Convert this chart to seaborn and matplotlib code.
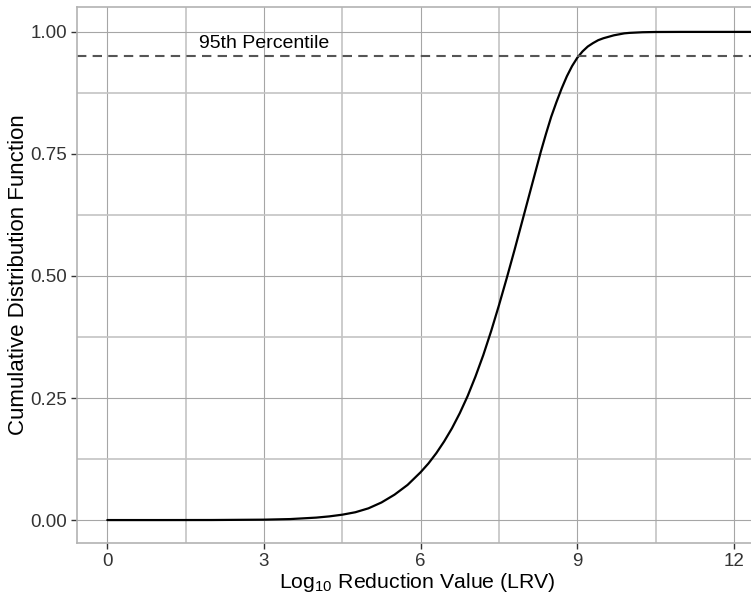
import numpy as np
import pandas as pd
import seaborn as sns
import matplotlib.pyplot as plt
from matplotlib.ticker import MultipleLocator

# CDF curve (LRV vs cumulative probability)
lrv = [0, 1, 2, 3, 3.5, 4, 4.25, 4.5, 4.75, 5, 5.25, 5.5, 5.75, 6, 6.15, 6.3,
       6.45, 6.6, 6.75, 6.9, 7.05, 7.2, 7.35, 7.5, 7.65, 7.8, 7.95, 8.1, 8.2,
       8.3, 8.4, 8.5, 8.6, 8.7, 8.8, 8.9, 9.0, 9.1, 9.2, 9.3, 9.4, 9.5, 9.6,
       9.7, 9.8, 9.9, 10, 10.25, 10.5, 11, 12.5]
cdf = [0, 0, 0.0001, 0.0008, 0.002, 0.005, 0.0075, 0.011, 0.016, 0.024, 0.036,
       0.052, 0.072, 0.098, 0.116, 0.137, 0.161, 0.188, 0.219, 0.254, 0.294,
       0.338, 0.387, 0.44, 0.496, 0.554, 0.614, 0.674, 0.714, 0.754, 0.791,
       0.826, 0.856, 0.884, 0.909, 0.930, 0.947, 0.960, 0.970, 0.977, 0.983,
       0.987, 0.990, 0.993, 0.995, 0.997, 0.998, 0.9993, 0.9998, 1.0, 1.0]
percentile_level = 0.95
percentile_label = "95th Percentile"
x_ticks = [0, 3, 6, 9, 12]
y_ticks = [0.00, 0.25, 0.50, 0.75, 1.00]

df = pd.DataFrame({"lrv": lrv, "cdf": cdf})

sns.set_theme(style="whitegrid")
plt.rcParams['font.family'] = ['Liberation Sans', 'DejaVu Sans']
plt.rcParams['mathtext.fontset'] = 'custom'
plt.rcParams['mathtext.rm'] = 'Liberation Sans'

fig = plt.figure(figsize=(7.51, 5.99), dpi=100)
ax = fig.add_axes([77 / 751, 56 / 599, 1 - 77 / 751 + 0.01, (543 - 7) / 599])

sns.lineplot(data=df, x="lrv", y="cdf", color="black", linewidth=1.6, ax=ax)
ax.axhline(percentile_level, color="#555555", linestyle=(0, (4.5, 3)), linewidth=1.5)
ax.text(3, 0.977, percentile_label, ha="center", va="center", fontsize=14, color="black")

ax.set_xlim(-0.58, 12.47)
ax.set_ylim(-0.047, 1.051)
ax.set_xticks(x_ticks)
ax.set_yticks(y_ticks)
ax.set_xticklabels([str(t) for t in x_ticks])
ax.set_yticklabels([f"{t:.2f}" for t in y_ticks])
ax.xaxis.set_minor_locator(MultipleLocator(1.5))
ax.yaxis.set_minor_locator(MultipleLocator(0.125))

ax.grid(which="major", color="#a6a6a6", linewidth=0.8)
ax.grid(which="minor", color="#c4c4c4", linewidth=1.2)
ax.set_axisbelow(True)
for side in ["left", "bottom", "top", "right"]:
    ax.spines[side].set_color("#b3b3b3")
    ax.spines[side].set_linewidth(1.2)

ax.tick_params(which="major", length=4, width=1, color="#333333",
               labelsize=13.5, labelcolor="#333333", pad=3,
               bottom=True, left=True)
ax.tick_params(which="minor", length=0)

ax.set_xlabel(r"Log$_{\mathregular{10}}$ Reduction Value (LRV)", fontsize=15.3, color="black", labelpad=1)
ax.set_ylabel("Cumulative Distribution Function", fontsize=16, color="black", labelpad=1)

fig.savefig("out.png", dpi=100)
